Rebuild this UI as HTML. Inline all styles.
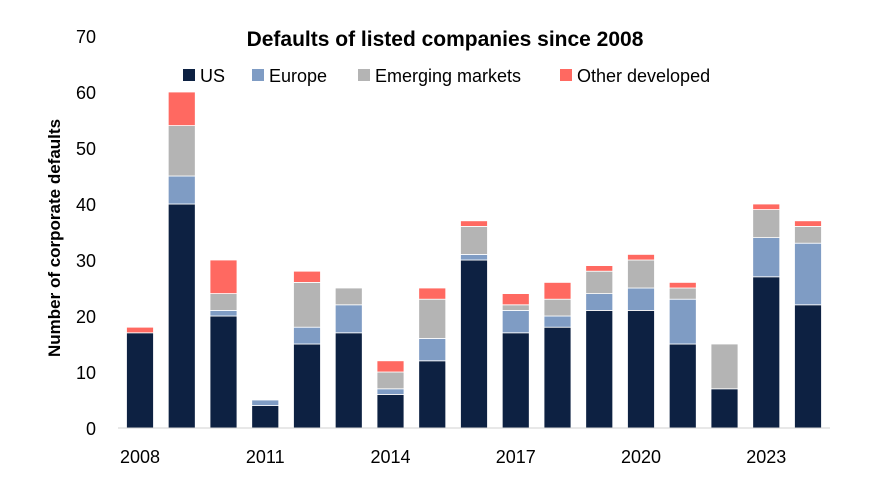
<!DOCTYPE html>
<html><head><meta charset="utf-8"><style>
body{margin:0;background:#fff;font-family:"Liberation Sans",sans-serif}
</style></head><body>
<svg id="c" width="883" height="496" xmlns="http://www.w3.org/2000/svg" font-family="Liberation Sans, sans-serif"></svg>
<script>
const years=[2008,2009,2010,2011,2012,2013,2014,2015,2016,2017,2018,2019,2020,2021,2022,2023,2024];
const us=[17,40,20,4,15,17,6,12,30,17,18,21,21,15,7,27,22];
const europe=[0,5,1,1,3,5,1,4,1,4,2,3,4,8,0,7,11];
const emerging=[0,9,3,0,8,3,3,7,5,1,3,4,5,2,8,5,3];
const other=[1,6,6,0,2,0,2,2,1,2,3,1,1,1,0,1,1];
const yTicks=[0,10,20,30,40,50,60,70];
const xLabels=["2008","2011","2014","2017","2020","2023"];
const series=[["us","US",us,"#0d2142"],["europe","Europe",europe,"#7f9cc4"],["emerging-markets","Emerging markets",emerging,"#b4b4b4"],["other-developed","Other developed",other,"#ff6961"]];
const svg=document.getElementById('c');const NS="http://www.w3.org/2000/svg";
function mk(t,a,txt){const e=document.createElementNS(NS,t);for(const k in a)e.setAttribute(k,a[k]);if(txt!==undefined)e.textContent=txt;svg.appendChild(e);return e;}
const y=v=>428-v*5.6;
const x=i=>140+i*41.75;
const bw=27;
yTicks.forEach(t=>{const e=mk('text',{x:96,y:y(t)+7,'text-anchor':'end','font-size':18,fill:'#000'},t);

});
years.forEach((yr,i)=>{let base=0;series.forEach(s=>{const v=s[2][i];if(v>0){const r=mk('rect',{x:x(i)-bw/2,y:y(base+v),width:bw,height:v*5.6,fill:s[3],stroke:'#fff','stroke-width':0.8});

}base+=v;});});
const ax=mk('line',{x1:118,y1:428,x2:830,y2:428,stroke:'#d0d0d0','stroke-width':1});


xLabels.forEach(l=>{const i=years.indexOf(+l);const e=mk('text',{x:x(i),y:463,'text-anchor':'middle','font-size':18,fill:'#000'},l);

});
const t=mk('text',{x:445,y:46,'text-anchor':'middle','font-size':21,'font-weight':'bold',fill:'#000'},'Defaults of listed companies since 2008');


const yl=mk('text',{x:0,y:0,'text-anchor':'middle','font-size':17,'font-weight':'bold',fill:'#000',transform:'translate(60,238) rotate(-90)'},'Number of corporate defaults');


const lx=[183,252,358,560];
series.forEach((s,k)=>{const r=mk('rect',{x:lx[k],y:69,width:12,height:12,fill:s[3]});


const tx=mk('text',{x:lx[k]+17,y:82,'font-size':18,fill:'#000'},s[1]);

});
</script>
</body></html>
